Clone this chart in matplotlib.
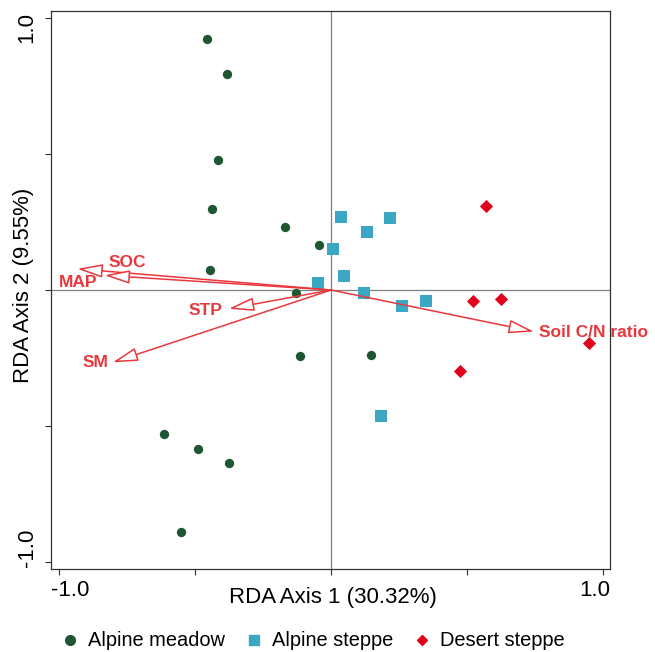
import matplotlib
matplotlib.use("Agg")
import matplotlib.pyplot as plt
from matplotlib.lines import Line2D

plt.rcParams['font.family'] = ['Liberation Sans', 'DejaVu Sans']

# Site scores
meadow_x = [-0.456, -0.382, -0.415, -0.437, -0.169, -0.044, -0.445, -0.129, -0.114, 0.147, -0.614, -0.489, -0.376, -0.551]
meadow_y = [0.923, 0.794, 0.478, 0.297, 0.233, 0.167, 0.075, -0.012, -0.244, -0.240, -0.529, -0.585, -0.637, -0.890]
steppe_x = [0.037, 0.218, 0.132, 0.008, 0.048, 0.122, 0.262, 0.348, 0.184, -0.047]
steppe_y = [0.269, 0.264, 0.213, 0.152, 0.053, -0.012, -0.059, -0.040, -0.463, 0.025]
desert_x = [0.570, 0.523, 0.625, 0.947, 0.474]
desert_y = [0.308, -0.040, -0.032, -0.195, -0.299]

# Environmental vectors
env_names = ["SOC", "MAP", "STP", "SM", "Soil C/N ratio"]
env_x = [-0.933, -0.833, -0.376, -0.803, 0.746]
env_y = [0.078, 0.054, -0.069, -0.266, -0.153]

tick_values = [-1.0, -0.5, 0.0, 0.5, 1.0]
end_labels = ["-1.0", "1.0"]

green = "#1E5631"
cyan = "#3AA8C3"
red = "#E2001A"
arrow_red = "#E8383D"

fig = plt.figure(figsize=(6.55, 6.52), dpi=100)
ax = fig.add_axes([0.0779, 0.1273, 0.8534, 0.8558])

ax.axhline(0, color="#808080", lw=0.9, zorder=1)
ax.axvline(0, color="#808080", lw=0.9, zorder=1)

ax.scatter(meadow_x, meadow_y, s=45, marker="o", color=green, zorder=3, linewidths=0)
ax.scatter(steppe_x, steppe_y, s=70, marker="s", color=cyan, zorder=3, linewidths=0)
ax.scatter(desert_x, desert_y, s=45, marker="D", color=red, zorder=3, linewidths=0)

for name, ex, ey in zip(env_names, env_x, env_y):
    ax.annotate("", xy=(ex, ey), xytext=(0, 0),
                arrowprops=dict(arrowstyle="-|>,head_length=1.3,head_width=0.35",
                                mutation_scale=12, color=arrow_red, fc="white",
                                lw=1.1, shrinkA=0, shrinkB=0),
                zorder=4)

label_pos = {
    "SOC": (-0.75, 0.103, "center"),
    "MAP": (-0.93, 0.029, "center"),
    "STP": (-0.46, -0.074, "center"),
    "SM": (-0.868, -0.265, "center"),
    "Soil C/N ratio": (0.765, -0.158, "left"),
}
for name in env_names:
    lx, ly, ha = label_pos[name]
    ax.text(lx, ly, name, color=arrow_red, fontsize=12.5, fontweight="bold",
            ha=ha, va="center", clip_on=False, zorder=5)

ax.set_xlim(-1.03, 1.026)
ax.set_ylim(-1.026, 1.026)
ax.set_xticks(tick_values)
ax.set_yticks(tick_values)
ax.set_xticklabels([])
ax.set_yticklabels([])
ax.tick_params(axis="both", length=4, width=0.8, color="#333333")
for sp in ax.spines.values():
    sp.set_color("#333333")
    sp.set_linewidth(0.9)

# end tick labels, aligned to the frame edges as in the reference
fig.text(51 / 655, 1 - 591 / 652, end_labels[0], fontsize=16, ha="left", va="center")
fig.text(610 / 655, 1 - 591 / 652, end_labels[1], fontsize=16, ha="right", va="center")
fig.text(27 / 655, 1 - 567 / 652, end_labels[0], fontsize=16, ha="center", va="bottom", rotation=90)
fig.text(27 / 655, 1 - 12 / 652, end_labels[1], fontsize=16, ha="center", va="top", rotation=90)

fig.text(333 / 655, 1 - 597 / 652, "RDA Axis 1 (30.32%)", fontsize=16,
         ha="center", va="center")
fig.text(24 / 655, 1 - 285 / 652, "RDA Axis 2 (9.55%)", fontsize=16,
         ha="center", va="center", rotation=90)

handles = [
    Line2D([], [], marker="o", color=green, ls="", markersize=7),
    Line2D([], [], marker="s", color=cyan, ls="", markersize=7),
    Line2D([], [], marker="D", color=red, ls="", markersize=5.5),
]
fig.legend(handles, ["Alpine meadow", "Alpine steppe", "Desert steppe"],
           loc="center", bbox_to_anchor=(0.477, 1 - 641 / 652), ncol=3, frameon=False,
           fontsize=14.4, handletextpad=0.4, columnspacing=0.95, handlelength=1.0,
           borderpad=0.1)

fig.savefig("out.png", dpi=100)
